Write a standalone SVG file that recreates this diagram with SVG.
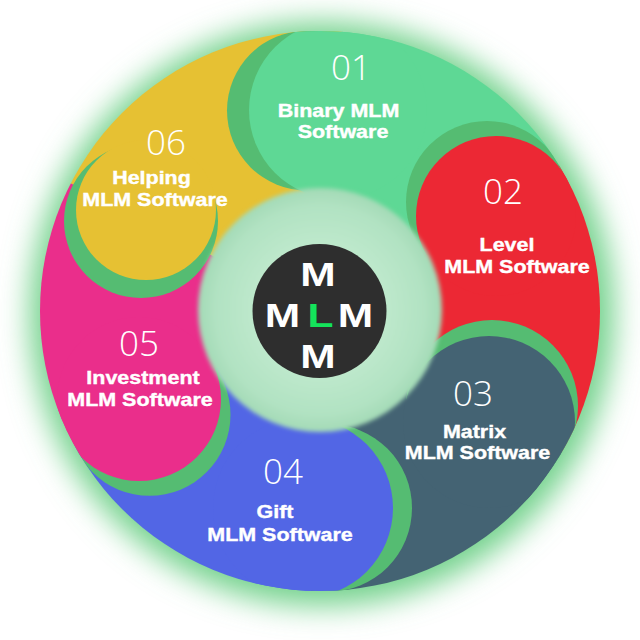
<svg xmlns="http://www.w3.org/2000/svg" width="640" height="640" viewBox="0 0 640 640">
<style>
.lbl{font-family:"Liberation Sans",Arial,sans-serif;font-weight:bold;font-size:19px;fill:#fff;stroke:#fff;stroke-width:0.4;text-anchor:middle}
.num{font-family:"Open Sans","Lato",sans-serif;font-weight:300;font-size:35px;fill:#fff;text-anchor:middle}
.ctr{font-family:"Liberation Sans",Arial,sans-serif;font-weight:bold;font-size:34px;fill:#fff;text-anchor:middle}
.sh{fill:#55bc72}
</style>
<defs>
<filter id="glow" x="-30%" y="-30%" width="160%" height="160%"><feGaussianBlur stdDeviation="15"/></filter>
<filter id="soft" x="-20%" y="-20%" width="140%" height="140%"><feGaussianBlur stdDeviation="2"/></filter>
<clipPath id="disc"><circle cx="320" cy="311" r="280"/></clipPath>
<radialGradient id="ringg" gradientUnits="userSpaceOnUse" cx="320" cy="310" r="123">
<stop offset="0.5" stop-color="#bfe9cd"/><stop offset="0.85" stop-color="#b1e2c2"/><stop offset="1" stop-color="#a2dab5"/>
</radialGradient>
</defs>
<rect width="640" height="640" fill="#fff"/>
<circle cx="322" cy="314" r="292" fill="#72d18b" filter="url(#glow)"/>
<g clip-path="url(#disc)">
<g id="tails">
<path d="M320,311 L53.0,174.2 A300,300 0 0 1 343.4,11.9 Z" fill="#e6c133"/>
<path d="M320,311 L343.4,11.9 A300,300 0 0 1 576.0,154.7 Z" fill="#5ed895"/>
<path d="M320,311 L576.0,154.7 A300,300 0 0 1 579.0,462.4 Z" fill="#ec2834"/>
<path d="M320,311 L579.0,462.4 A300,300 0 0 1 310.1,610.8 Z" fill="#446373"/>
<path d="M320,311 L310.1,610.8 A300,300 0 0 1 57.4,456.1 Z" fill="#5266e5"/>
<path d="M320,311 L57.4,456.1 A300,300 0 0 1 53.0,174.2 Z" fill="#ea2e8b"/>
</g>
<g id="node-01">
<circle class="sh" cx="307" cy="110.6" r="80"/>
<circle cx="338" cy="110" r="89" fill="#5ed895"/>
<text class="num" x="351" y="80">01</text>
<text class="lbl" transform="translate(338.5,117) scale(1.13,1)">Binary MLM</text>
<text class="lbl" transform="translate(343,138) scale(1.13,1)">Software</text>
</g>
<g id="node-02">
<circle class="sh" cx="487" cy="202" r="81"/>
<circle cx="496" cy="216" r="80" fill="#ec2834"/>
<text class="num" x="503" y="204">02</text>
<text class="lbl" transform="translate(507,251) scale(1.13,1)">Level</text>
<text class="lbl" transform="translate(517,273) scale(1.13,1)">MLM Software</text>
</g>
<g id="node-03">
<circle class="sh" cx="492" cy="406" r="86"/>
<circle cx="489" cy="422" r="86" fill="#446373"/>
<text class="num" x="473" y="406">03</text>
<text class="lbl" transform="translate(474.5,438) scale(1.13,1)">Matrix</text>
<text class="lbl" transform="translate(477.5,459) scale(1.13,1)">MLM Software</text>
</g>
<g id="node-04">
<circle class="sh" cx="328" cy="508" r="84"/>
<circle cx="303" cy="508" r="90" fill="#5266e5"/>
<text class="num" x="283" y="484">04</text>
<text class="lbl" transform="translate(275,518) scale(1.13,1)">Gift</text>
<text class="lbl" transform="translate(280,541) scale(1.13,1)">MLM Software</text>
</g>
<g id="node-05">
<circle class="sh" cx="149.5" cy="414.8" r="81"/>
<circle cx="139" cy="399" r="82" fill="#ea2e8b"/>
<text class="num" x="139" y="356">05</text>
<text class="lbl" transform="translate(143,384) scale(1.13,1)">Investment</text>
<text class="lbl" transform="translate(140,406) scale(1.13,1)">MLM Software</text>
</g>
<g id="node-06">
<circle class="sh" cx="141" cy="221" r="77"/>
<circle cx="146" cy="210" r="70" fill="#e6c133"/>
<text class="num" x="166" y="155">06</text>
<text class="lbl" transform="translate(151.5,184) scale(1.13,1)">Helping</text>
<text class="lbl" transform="translate(155,206) scale(1.13,1)">MLM Software</text>
</g>
</g>
<g id="hub">
<circle cx="320" cy="310" r="122" fill="url(#ringg)" filter="url(#soft)"/>
<circle cx="319.5" cy="311" r="67" fill="#2e2e2e"/>
<text class="ctr" transform="translate(318,286) scale(1.25,1)">M</text>
<text class="ctr" transform="translate(282.5,327) scale(1.25,1)">M</text>
<text class="ctr" transform="translate(320.5,327) scale(1.25,1)" style="fill:#14e35b">L</text>
<text class="ctr" transform="translate(355.5,327) scale(1.25,1)">M</text>
<text class="ctr" transform="translate(318,368) scale(1.25,1)">M</text>
</g>
</svg>
